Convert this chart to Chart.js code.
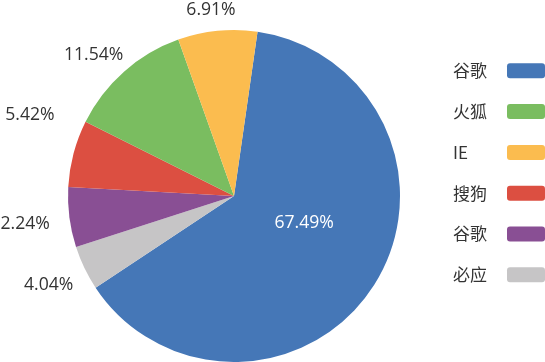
<!DOCTYPE html>
<html>
<head>
<meta charset="utf-8">
<script src="https://cdn.jsdelivr.net/npm/chart.js@4"></script>
<style>
    html, body { margin: 0; padding: 0; background: #fff; }
    #wrap { width: 545px; height: 362px; position: relative; }
</style>
</head>
<body>
<div id="wrap"><canvas id="browserPie"></canvas></div>
<script>
// slices in drawing order (clockwise, starting just right of 12 o'clock)
const categories = ['谷歌', '必应', '谷歌', '搜狗', '火狐', 'IE'];
const values = [63.43, 4.33, 5.83, 6.53, 12.17, 7.71];
const pctLabels = ['67.49%', '4.04%', '2.24%', '5.42%', '11.54%', '6.91%'];
const colors = ['#4577b7', '#c6c5c6', '#894f94', '#dc4f41', '#7abd60', '#fbbc4f'];
// legend lists them in this order (indexes into the arrays above)
const legendOrder = [0, 4, 5, 3, 2, 1];

// percentage labels: white one inside the big slice, dark ones outside
const sliceLabels = {
    id: 'sliceLabels',
    afterDatasetsDraw(chart, args, opts) {
        const ctx = chart.ctx;
        const meta = chart.getDatasetMeta(0);
        ctx.save();
        ctx.font = '17.6px "Open Sans"';
        ctx.textAlign = 'center';
        ctx.textBaseline = 'middle';
        meta.data.forEach((arc, i) => {
            const p = arc.getProps(['x', 'y', 'startAngle', 'endAngle', 'outerRadius']);
            const mid = (p.startAngle + p.endAngle) / 2;
            const cos = Math.cos(mid), sin = Math.sin(mid);
            const nudge = opts.nudge[i] || [0, 0];
            let x, y;
            if (values[i] > 30) {
                x = p.x + cos * p.outerRadius * 0.5;
                y = p.y + sin * p.outerRadius * 0.5;
                ctx.fillStyle = '#fff';
            } else {
                const w = ctx.measureText(pctLabels[i]).width;
                const ext = Math.abs(cos) * w / 2 + Math.abs(sin) * 8;
                const d = p.outerRadius + 14 + ext;
                x = p.x + cos * d;
                y = p.y + sin * d;
                ctx.fillStyle = '#333';
            }
            ctx.fillText(pctLabels[i], x + nudge[0], y + nudge[1]);
        });
        ctx.restore();
    }
};

// legend on the right: name first, colour bar after it
const sideLegend = {
    id: 'sideLegend',
    afterDraw(chart) {
        const ctx = chart.ctx;
        ctx.save();
        ctx.font = '17px "Noto Sans CJK SC"';
        ctx.textBaseline = 'middle';
        ctx.textAlign = 'left';
        legendOrder.forEach((idx, row) => {
            const cy = 70.8 + row * 40.8;
            ctx.fillStyle = '#333';
            ctx.fillText(categories[idx], 453, cy);
            ctx.fillStyle = colors[idx];
            ctx.beginPath();
            ctx.roundRect(507, cy - 7.5, 38, 15, 3);
            ctx.fill();
        });
        ctx.restore();
    }
};

document.addEventListener('DOMContentLoaded', () => {
    const ctx = document.getElementById('browserPie').getContext('2d');
    new Chart(ctx, {
        type: 'pie',
        data: {
            labels: categories,
            datasets: [{
                data: values,
                backgroundColor: colors,
                borderWidth: 0
            }]
        },
        options: {
            responsive: true,
            maintainAspectRatio: false,
            animation: false,
            rotation: 8.15,
            layout: {
                padding: { top: 30, bottom: 0, left: 68, right: 145 }
            },
            plugins: {
                legend: { display: false },
                tooltip: { enabled: false },
                sliceLabels: {
                    nudge: [[0, -17], [0, 0], [-5, 1], [-5, -28], [-4, 13], [-4, 3]]
                }
            }
        },
        plugins: [sliceLabels, sideLegend]
    });
});
</script>
</body>
</html>
